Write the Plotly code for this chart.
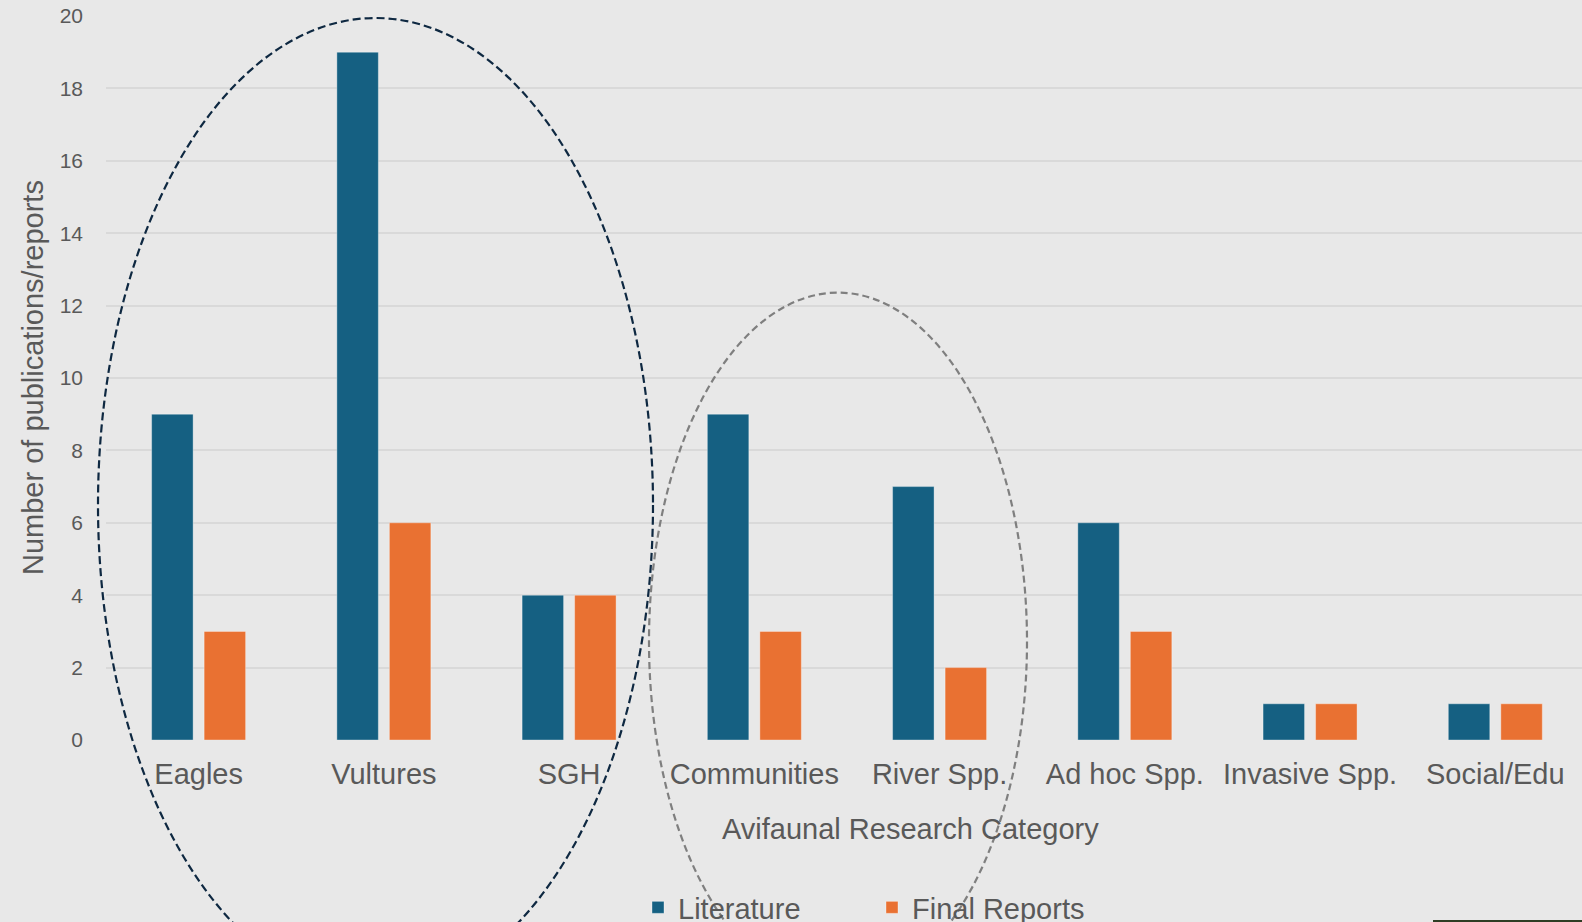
import plotly.graph_objects as go

categories = ["Eagles", "Vultures", "SGH", "Communities", "River Spp.",
              "Ad hoc Spp.", "Invasive Spp.", "Social/Edu"]
literature = [9, 19, 4, 9, 7, 6, 1, 1]
final_reports = [3, 6, 4, 3, 2, 3, 1, 1]
y_ticks = [0, 2, 4, 6, 8, 10, 12, 14, 16, 18, 20]

W, H = 1582, 922
L, R, T, B = 106, 0, 16, 182
PW, PH = W - L - R, H - T - B

def px(x):
    return (x - L) / PW

def py(y):
    return (H - B - y) / PH

FONT = "Liberation Sans, Arial, sans-serif"
TXT = "#595959"
BLUE = "#156082"
ORANGE = "#E97132"

fig = go.Figure()
fig.add_trace(go.Bar(name="Literature", x=categories, y=literature,
                     marker=dict(color=BLUE, line=dict(color="rgba(255,255,255,0.35)", width=1))))
fig.add_trace(go.Bar(name="Final Reports", x=categories, y=final_reports,
                     marker=dict(color=ORANGE, line=dict(color="rgba(255,255,255,0.35)", width=1))))

shapes = [
    # dark dashed ellipse around Eagles/Vultures/SGH
    dict(type="circle", xref="paper", yref="paper",
         x0=px(375.5 - 277.5), x1=px(375.5 + 277.5),
         y0=py(505 - 487), y1=py(505 + 487),
         line=dict(color="#0E2841", width=2.2, dash="8px,4px"), layer="above"),
    # grey dashed ellipse around Communities/River Spp.
    dict(type="circle", xref="paper", yref="paper",
         x0=px(838 - 189), x1=px(838 + 189),
         y0=py(641.6 - 349), y1=py(641.6 + 349),
         line=dict(color="#7F7F7F", width=2.2, dash="7px,4px"), layer="above"),
    # thin dark strip at bottom right
    dict(type="rect", xref="paper", yref="paper",
         x0=px(1433), x1=px(1600), y0=py(920), y1=py(930),
         line=dict(width=0), fillcolor="#2F3D24", layer="above"),
]

annotations = [
    dict(text="Number of publications/reports", xref="paper", yref="paper",
         x=px(33), y=0.5, xanchor="center", yanchor="middle", textangle=-90,
         showarrow=False, font=dict(family=FONT, size=29, color=TXT)),
    dict(text="Avifaunal Research Category", xref="paper", yref="paper",
         x=px(910), y=py(829), xanchor="center", yanchor="middle",
         showarrow=False, font=dict(family=FONT, size=29, color=TXT)),
]

fig.update_layout(
    width=W, height=H,
    margin=dict(l=L, r=R, t=T, b=B, pad=0, autoexpand=False),
    paper_bgcolor="#E8E8E8", plot_bgcolor="#E8E8E8",
    barmode="group", bargap=0.433, bargroupgap=0.21,
    font=dict(family=FONT, color=TXT),
    showlegend=True,
    legend=dict(orientation="h", x=px(638), y=py(882), xanchor="left", yanchor="top",
                font=dict(family=FONT, size=29, color=TXT), bgcolor="rgba(0,0,0,0)",
                entrywidth=189, entrywidthmode="pixels", itemclick=False),
    shapes=shapes, annotations=annotations,
    xaxis=dict(range=[-0.5, 7.468], showgrid=False, showline=False, zeroline=False,
               ticks="", tickfont=dict(family=FONT, size=29, color=TXT),
               ticklabelstandoff=14, fixedrange=True, automargin=False),
    yaxis=dict(range=[0, 20], tickvals=y_ticks, showgrid=True, gridcolor="#D9D9D9",
               gridwidth=2, zeroline=False, showline=False, ticks="",
               tickfont=dict(family=FONT, size=21, color=TXT),
               ticklabelstandoff=22, fixedrange=True, automargin=False),
)

fig.write_html("out.html", config={"displayModeBar": False},
               post_script="document.body.style.margin='0';document.body.style.padding='0';")
